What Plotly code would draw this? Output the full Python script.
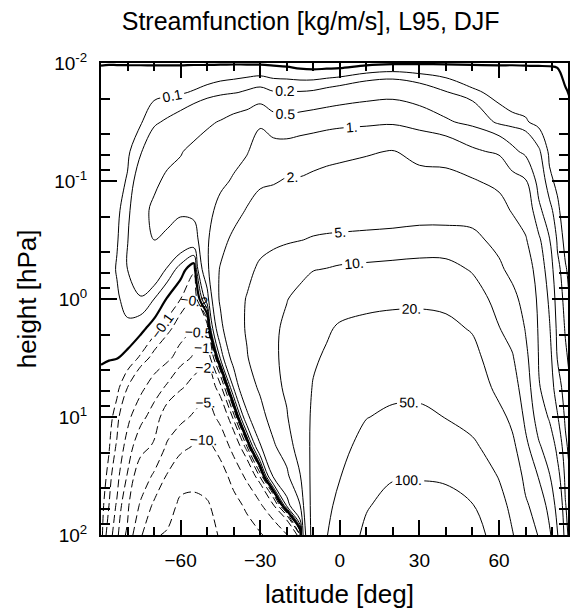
import numpy as np
import plotly.graph_objects as go

# Grid: latitude (deg) and pressure levels (hPa)
lat = [-90, -87, -84, -80, -75, -70, -65, -60, -55, -50, -45, -40, -35, -30,
       -25, -20, -15, -10, -5, 0, 10, 20, 30, 40, 50, 60, 65, 70, 75, 79, 82,
       85, 88, 90]
pressure = [0.01, 0.0178, 0.0316, 0.0562, 0.1, 0.178, 0.316, 0.562, 1.0,
            1.78, 3.16, 5.62, 10.0, 17.8, 31.6, 56.2, 100.0]

# Streamfunction [kg/m/s]: one vertical profile per latitude (top -> bottom)
psi_by_lat = [
    [-0.002, 0.02, 0.02, 0.02, 0.02, 0.02, 0.02, 0.02, 0.015, 0.01, 0.003, -0.01, -0.02, -0.03, -0.04, -0.05, -0.06],
    [-0.002, 0.03, 0.03, 0.03, 0.035, 0.04, 0.05, 0.05, 0.045, 0.025, 0.003, -0.03, -0.06, -0.09, -0.13, -0.2, -0.28],
    [-0.003, 0.04, 0.045, 0.05, 0.06, 0.08, 0.09, 0.11, 0.08, 0.05, 0.003, -0.07, -0.15, -0.22, -0.35, -0.55, -0.8],
    [-0.004, 0.05, 0.06, 0.08, 0.11, 0.15, 0.19, 0.2, 0.15, 0.07, -0.03, -0.2, -0.4, -0.65, -1.05, -1.6, -2.3],
    [-0.005, 0.06, 0.09, 0.19, 0.3, 0.42, 0.48, 0.38, 0.18, 0.03, -0.12, -0.4, -0.8, -1.5, -3.0, -5.5, -9.0],
    [-0.006, 0.07, 0.18, 0.3, 0.45, 0.55, 0.5, 0.32, 0.1, -0.05, -0.25, -0.7, -1.3, -2.2, -5.5, -11.0, -19.0],
    [-0.007, 0.08, 0.22, 0.42, 0.55, 0.58, 0.45, 0.18, -0.01, -0.15, -0.4, -1.1, -2.8, -5.5, -10.5, -16.0, -21.0],
    [-0.008, 0.09, 0.27, 0.48, 0.6, 0.55, 0.32, 0.05, -0.1, -0.3, -0.7, -1.8, -4.0, -8.0, -16.0, -22.0, -25.0],
    [-0.008, 0.11, 0.35, 0.58, 0.66, 0.6, 0.3, -0.08, -0.22, -0.45, -1.1, -2.6, -5.5, -10.5, -17.0, -22.5, -25.0],
    [-0.01, 0.14, 0.45, 0.65, 0.78, 0.85, 0.92, 0.85, 0.3, -0.3, -1.5, -3.5, -7.0, -11.5, -16.0, -21.0, -24.0],
    [-0.01, 0.17, 0.52, 0.72, 0.9, 1.15, 1.55, 2.1, 2.2, 1.6, 0.55, -1.2, -3.8, -8.0, -12.5, -16.5, -19.0],
    [-0.01, 0.19, 0.62, 0.85, 1.05, 1.5, 2.3, 3.4, 3.8, 3.5, 2.5, 1.05, -0.7, -3.5, -8.0, -12.0, -15.0],
    [-0.012, 0.22, 0.7, 0.95, 1.35, 2.1, 3.1, 4.3, 5.15, 5.3, 4.8, 3.5, 1.6, -0.5, -4.0, -9.0, -12.5],
    [-0.015, 0.25, 0.9, 1.35, 1.8, 2.55, 4.1, 5.5, 6.5, 7.0, 6.8, 5.5, 3.8, 1.8, -0.8, -5.5, -10.5],
    [-0.02, 0.21, 0.65, 1.3, 1.9, 2.7, 4.3, 6.5, 8.2, 9.1, 9.0, 8.2, 6.5, 4.5, 2.2, -2.1, -8.0],
    [-0.03, 0.21, 0.6, 1.3, 2.1, 2.8, 4.6, 7.5, 9.8, 11.0, 11.5, 11.0, 9.5, 7.0, 4.1, 1.1, -5.2],
    [-0.05, 0.21, 0.65, 1.4, 2.1, 2.9, 4.9, 8.5, 11.5, 13.5, 15.2, 15.5, 15.2, 13.0, 9.6, 4.8, -1.1],
    [-0.06, 0.22, 0.7, 1.5, 2.25, 3.1, 5.3, 9.8, 13.5, 16.5, 19.0, 20.5, 21.5, 22.5, 23.5, 24.5, 25.0],
    [-0.06, 0.25, 0.75, 1.65, 2.35, 3.2, 5.5, 10.2, 15.0, 19.0, 21.0, 23.0, 26.0, 30.0, 35.0, 41.0, 48.0],
    [-0.06, 0.28, 0.8, 1.75, 2.4, 3.3, 5.6, 10.8, 16.5, 21.0, 24.0, 28.0, 34.0, 40.0, 48.5, 60.0, 75.0],
    [-0.03, 0.35, 0.85, 1.9, 2.5, 3.4, 5.8, 11.3, 17.5, 22.5, 29.0, 38.0, 49.0, 62.0, 78.0, 97.0, 108.0],
    [-0.015, 0.38, 0.9, 2.05, 2.6, 3.5, 6.0, 11.8, 18.0, 23.5, 31.0, 42.0, 56.0, 76.0, 97.0, 113.0, 126.0],
    [-0.012, 0.3, 0.75, 1.65, 2.4, 3.5, 6.5, 12.2, 18.0, 24.0, 31.0, 42.0, 57.0, 77.0, 97.0, 116.0, 130.0],
    [-0.01, 0.21, 0.55, 1.5, 2.4, 3.5, 6.5, 12.0, 17.0, 23.0, 30.0, 38.0, 49.0, 70.0, 95.0, 112.0, 122.0],
    [-0.008, 0.12, 0.4, 1.1, 2.1, 3.8, 5.8, 9.5, 13.0, 19.0, 24.0, 30.0, 40.0, 55.0, 75.0, 102.0, 115.0],
    [-0.006, 0.07, 0.15, 0.9, 1.7, 2.5, 4.1, 5.6, 8.0, 10.2, 12.5, 16.0, 24.0, 36.0, 48.0, 62.0, 85.0],
    [-0.005, 0.06, 0.12, 0.6, 1.2, 1.9, 2.8, 4.1, 6.0, 8.0, 10.5, 13.0, 17.0, 23.0, 31.0, 42.0, 52.0],
    [-0.005, 0.05, 0.11, 0.4, 1.05, 1.5, 2.1, 2.8, 3.8, 4.8, 5.8, 6.8, 8.5, 11.5, 16.0, 22.0, 30.0],
    [-0.005, 0.045, 0.07, 0.22, 0.33, 0.6, 1.1, 1.4, 1.6, 1.75, 1.9, 2.1, 3.1, 5.5, 9.5, 14.0, 19.0],
    [-0.005, 0.04, 0.05, 0.08, 0.12, 0.25, 0.52, 0.7, 0.9, 1.05, 1.2, 1.35, 1.8, 3.1, 5.2, 8.0, 11.0],
    [-0.006, 0.03, 0.04, 0.05, 0.08, 0.12, 0.17, 0.25, 0.32, 0.4, 0.48, 0.7, 1.05, 1.6, 2.5, 3.6, 5.2],
    [-0.02, 0.005, 0.02, 0.03, 0.04, 0.05, 0.07, 0.11, 0.14, 0.18, 0.24, 0.32, 0.42, 0.6, 0.8, 1.05, 1.3],
    [-0.03, -0.01, 0.005, 0.01, 0.02, 0.03, 0.04, 0.05, 0.06, 0.08, 0.09, 0.13, 0.16, 0.19, 0.25, 0.3, 0.35],
    [-0.03, -0.03, -0.03, -0.03, -0.03, -0.03, -0.03, -0.03, -0.03, -0.03, -0.03, -0.03, -0.03, -0.03, -0.03, -0.03, -0.03],
]

pos_levels = [0.1, 0.2, 0.5, 1, 2, 5, 10, 20, 50, 100]
neg_levels = [-20, -10, -5, -2, -1, -0.5, -0.2, -0.1]

y_tickvals = [-2, -1, 0, 1, 2]
y_ticktext = ["10<sup>-2</sup>", "10<sup>-1</sup>", "10<sup>0</sup>",
              "10<sup>1</sup>", "10<sup>2</sup>"]
x_tickvals = [-60, -30, 0, 30, 60]

FONT = "Liberation Sans, Arial, Helvetica, sans-serif"

z = np.array(psi_by_lat).T
logp = np.log10(pressure)


def level_trace(level, dash, width, labels):
    fmt = "$.0f" if abs(level) >= 1 else ".1f"
    return go.Contour(
        x=lat, y=logp, z=z,
        autocontour=False,
        contours=dict(start=level, end=level, size=1, coloring="lines",
                      showlabels=labels, labelformat=fmt,
                      labelfont=dict(size=14, color="black", family=FONT)),
        line=dict(color="black", width=width, dash=dash, smoothing=1),
        colorscale=[[0, "black"], [1, "black"]],
        showscale=False, hoverinfo="skip",
    )


fig = go.Figure()
for lev in pos_levels:
    fig.add_trace(level_trace(lev, "solid", 1, True))
for lev in neg_levels:
    fig.add_trace(level_trace(lev, "8px,4px", 1, True))
fig.add_trace(level_trace(0.0, "solid", 2.2, False))

minor_y = [np.log10(m * 10.0 ** e) for e in range(-2, 2) for m in (2, 4, 6, 8)]

fig.update_layout(
    width=570, height=610,
    margin=dict(l=101, r=0, t=63, b=75),
    paper_bgcolor="white", plot_bgcolor="white",
    font=dict(family=FONT, color="black"),
    showlegend=False,
    title=dict(text="Streamfunction [kg/m/s], L95, DJF",
               font=dict(size=25, family=FONT, color="black"),
               x=0.449, xref="paper", xanchor="center",
               y=1 - 21 / 610, yref="container", yanchor="middle"),
    xaxis=dict(range=[-90, 86], tickvals=x_tickvals, ticks="inside",
               ticklen=15, tickwidth=2, tickcolor="black",
               showline=True, linewidth=2, linecolor="black", mirror="ticks",
               showgrid=False, zeroline=False,
               tickfont=dict(size=19, family=FONT), ticklabelstandoff=7,
               minor=dict(dtick=10, tick0=0, ticks="inside", ticklen=8,
                          tickwidth=1.5, tickcolor="black", showgrid=False)),
    yaxis=dict(range=[2, -2], tickvals=y_tickvals, ticktext=y_ticktext,
               ticks="inside", ticklen=16, tickwidth=2, tickcolor="black",
               showline=True, linewidth=2, linecolor="black", mirror="ticks",
               showgrid=False, zeroline=False,
               tickfont=dict(size=19, family=FONT), ticklabelstandoff=8,
               minor=dict(tickvals=minor_y, ticks="inside", ticklen=9,
                          tickwidth=1.5, tickcolor="black", showgrid=False)),
    annotations=[
        dict(text="latitude [deg]", xref="paper", yref="paper",
             x=(340.5 - 101) / 469, y=-(594 - 535) / 472,
             xanchor="center", yanchor="middle", showarrow=False,
             font=dict(size=26, family=FONT, color="black")),
        dict(text="height [hPa]", xref="paper", yref="paper",
             x=-(101 - 27) / 469, y=0.5, textangle=-90,
             xanchor="center", yanchor="middle", showarrow=False,
             font=dict(size=26, family=FONT, color="black")),
    ],
)

fig.write_html("out.html", config={
    "displayModeBar": False,
    "locales": {"en-US": {"format": {"currency": ["", "."]}}},
})
